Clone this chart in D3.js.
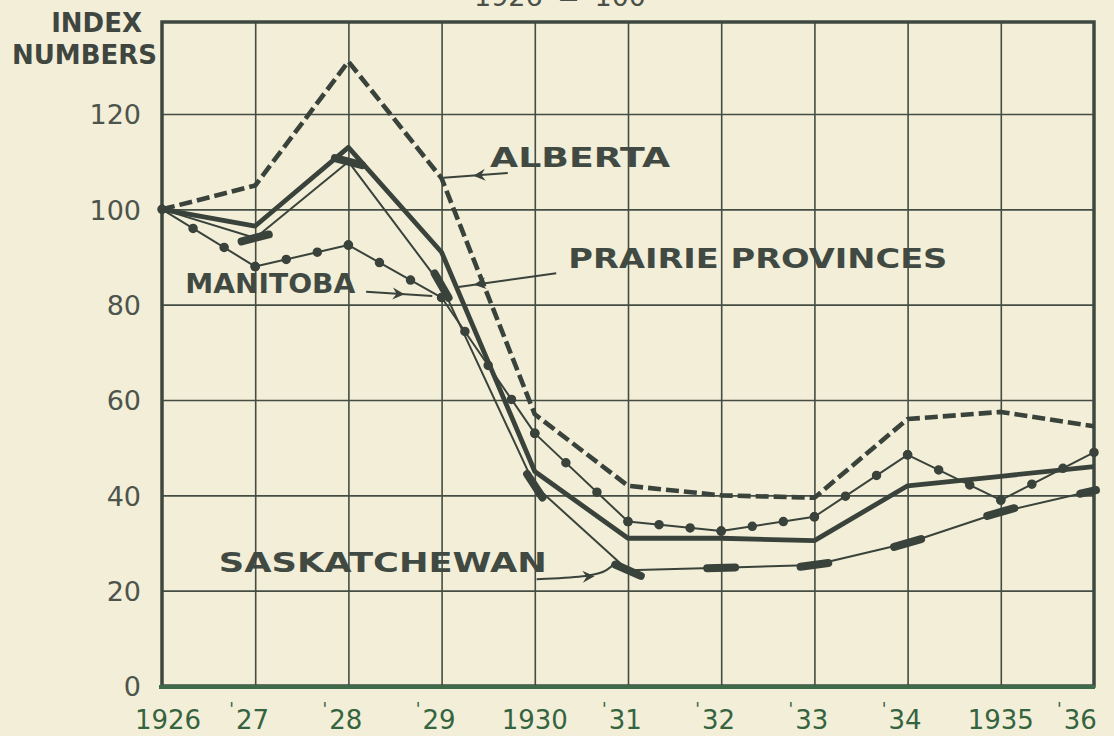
<!DOCTYPE html>
<html><head><meta charset="utf-8">
<script src="https://cdn.jsdelivr.net/npm/d3@7"></script>
<style>
html,body{margin:0;padding:0;background:#f3eed7;}
svg{display:block;}
</style></head><body>
<svg id="chart" width="1114" height="736"></svg>
<script>
// ---------------- data ----------------
const years = [1926,1927,1928,1929,1930,1931,1932,1933,1934,1935,1936];
const xTickLabels = ["1926","'27","'28","'29","1930","'31","'32","'33","'34","1935","'36"];
const yTicks = [0,20,40,60,80,100,120];
const alberta      = [100,105,131,106.5,57,42,40,39.5,56,57.5,54.5];
const prairie      = [100,96.5,113,91,45,31,31,30.5,42,44,46];
const manitoba     = [100,88,92.5,81.5,53,34.5,32.5,35.5,48.5,39,49];
const saskatchewan = [100,94,110,84,42,24.3,24.8,25.4,30,36.5,41];
const seriesNames  = ["ALBERTA","PRAIRIE PROVINCES","MANITOBA","SASKATCHEWAN"];
const titleText = "1926 = 100";
const yTitle = ["INDEX","NUMBERS"];

// ---------------- layout ----------------
const W = 1114, H = 736;
const svg = d3.select("#chart");
const x = d3.scaleLinear().domain([1926,1936]).range([162,1094]);
const y = d3.scaleLinear().domain([0,139.3]).range([686,22]);
const ink = "#39433b";
const P = (a,b) => [x(a), y(b)];

svg.append("rect").attr("width",W).attr("height",H).attr("fill","#f3eed7");

// title (cut off at top, as in the original)
svg.append("text").attr("x",560).attr("y",6).attr("text-anchor","middle")
  .attr("font-family","DejaVu Sans").attr("font-size",27).attr("fill","#4a5049")
  .attr("word-spacing",6).text(titleText);

// grid
const grid = svg.append("g");
grid.append("g")
  .call(d3.axisBottom(x).tickValues(years.slice(1,-1)).tickSize(0).tickFormat(""))
  .call(g=>g.select(".domain").remove())
  .call(g=>g.selectAll(".tick line").attr("y1",y.range()[1]).attr("y2",y.range()[0])
     .attr("stroke","#434d44").attr("stroke-width",1.6));
grid.append("g")
  .call(d3.axisLeft(y).tickValues(yTicks.filter(v=>v>0)).tickSize(0).tickFormat(""))
  .call(g=>g.select(".domain").remove())
  .call(g=>g.selectAll(".tick line").attr("x1",x.range()[0]).attr("x2",x.range()[1])
     .attr("stroke","#434d44").attr("stroke-width",1.6));

// frame
svg.append("rect").attr("x",x.range()[0]).attr("y",y.range()[1])
  .attr("width",x.range()[1]-x.range()[0]).attr("height",y.range()[0]-y.range()[1])
  .attr("fill","none").attr("stroke","#3e4840").attr("stroke-width",3.5);
svg.append("line").attr("x1",x.range()[0]-3).attr("x2",x.range()[1]+1)
  .attr("y1",y(0)+1).attr("y2",y(0)+1).attr("stroke","#3d6b4a").attr("stroke-width",4);

// y axis labels
svg.append("g").attr("transform",`translate(141,0)`)
  .call(d3.axisLeft(y).tickValues(yTicks).tickSize(0).tickPadding(0))
  .call(g=>g.select(".domain").remove())
  .call(g=>g.selectAll("text").attr("font-family","DejaVu Sans").attr("font-size",27)
     .attr("fill","#4c544c").attr("dy","0.36em"));

// x axis labels
const xl = svg.append("g").attr("font-family","DejaVu Sans").attr("font-size",26).attr("fill","#34643f");
xTickLabels.forEach((lab,i)=>{
  let cx = x(years[i]);
  if (i===0) cx += 6;
  if (i===years.length-1) cx -= 11;
  const t = xl.append("text").attr("y",729).attr("text-anchor","middle");
  if (lab[0]==="'") {
    t.attr("x",cx-4);
    t.append("tspan").attr("font-size",17).attr("dy",-14).attr("dx",-2).text("'");
    t.append("tspan").attr("dy",14).attr("dx",2).text(lab.slice(1));
  } else {
    t.attr("x",cx).text(lab);
  }
});

// y title
const yt = svg.append("g").attr("font-family","DejaVu Sans").attr("font-weight","bold")
  .attr("font-size",26).attr("fill","#3f453f").attr("text-anchor","end");
yt.append("text").attr("x",142).attr("y",32).text(yTitle[0]);
yt.append("text").attr("x",157).attr("y",64).text(yTitle[1]);

// ---------------- series ----------------
const line = d3.line().x((d,i)=>x(years[i])).y(d=>y(d));
const plot = svg.append("g").attr("fill","none").attr("stroke",ink).attr("stroke-linejoin","round");

// Alberta dashed
plot.append("path").datum(alberta).attr("d",line)
  .attr("stroke-width",4.6).attr("stroke-dasharray","13,5");

// Prairie provinces thick
plot.append("path").datum(prairie).attr("d",line).attr("stroke-width",4.8);

// Saskatchewan thin with bar markers
plot.append("path").datum(saskatchewan).attr("d",line).attr("stroke-width",2);
const sk = saskatchewan.map((v,i)=>P(years[i],v));
sk.forEach((p,i)=>{
  if (i===0) return;
  const a = sk[Math.max(0,i-1)], b = sk[Math.min(sk.length-1,i+1)];
  const ang = Math.atan2(b[1]-a[1], b[0]-a[0]);
  const L = i===sk.length-1 ? 8 : 14;
  const off = i===sk.length-1 ? -6 : 0;
  const cx = p[0]+off*Math.cos(ang), cy = p[1]+off*Math.sin(ang);
  plot.append("line")
    .attr("x1",cx-L*Math.cos(ang)).attr("y1",cy-L*Math.sin(ang))
    .attr("x2",cx+L*Math.cos(ang)).attr("y2",cy+L*Math.sin(ang))
    .attr("stroke-width",8).attr("stroke-linecap","round");
});

// Manitoba thin with dots
plot.append("path").datum(manitoba).attr("d",line).attr("stroke-width",2);
for (let i=0;i<manitoba.length-1;i++){
  const seg=[manitoba[i],manitoba[i+1]];
  const p0=P(years[i],seg[0]), p1=P(years[i+1],seg[1]);
  const len=Math.hypot(p1[0]-p0[0],p1[1]-p0[1]);
  const k=Math.max(3,Math.round(len/38));
  plot.append("path").attr("d",`M${p0[0]},${p0[1]}L${p1[0]},${p1[1]}`)
    .attr("stroke-width",9.5).attr("stroke-linecap","round")
    .attr("stroke-dasharray",`0 ${len/k-0.001}`);
}

// ---------------- annotations ----------------
const ann = svg.append("g");
function label(txt, xd, yd, len){
  const p=P(xd,yd);
  ann.append("text").attr("x",p[0]).attr("y",p[1]).text(txt)
    .attr("font-family","DejaVu Sans").attr("font-weight","bold").attr("font-size",26)
    .attr("fill","#414a42").attr("textLength",len).attr("lengthAdjust","spacingAndGlyphs");
}
function arrowHead(pt, ang){
  const s=12, w=6;
  const tip=[pt[0]+s*Math.cos(ang), pt[1]+s*Math.sin(ang)];
  const bx=pt[0], by=pt[1];
  const nx=-Math.sin(ang), ny=Math.cos(ang);
  ann.append("path").attr("d",`M${tip[0]},${tip[1]}L${bx+nx*w},${by+ny*w}L${bx+Math.cos(ang)*4},${by+Math.sin(ang)*4}L${bx-nx*w},${by-ny*w}Z`)
    .attr("fill",ink);
}
function arrow(pts, headFrac){
  const px=pts.map(p=>P(p[0],p[1]));
  ann.append("path").attr("d",d3.line().curve(d3.curveBasis)(px))
    .attr("fill","none").attr("stroke",ink).attr("stroke-width",2);
  const a=px[0], b=px[px.length-1];
  const ang=Math.atan2(b[1]-a[1], b[0]-a[0]);
  const hp=[a[0]+(b[0]-a[0])*headFrac, a[1]+(b[1]-a[1])*headFrac];
  arrowHead(hp, ang);
}
label(seriesNames[0], 1929.52, 108.9, 180);
label(seriesNames[1], 1930.36, 87.7, 379);
label(seriesNames[2], 1926.25, 82.4, 170);
label(seriesNames[3], 1926.61, 23.9, 328);

arrow([[1929.71,107.6],[1929.02,106.6]], 0.35);
arrow([[1930.23,86.6],[1929.18,83.7]], 0.72);
arrow([[1928.19,82.7],[1928.90,81.8]], 0.4);
// Saskatchewan curved leader
(function(){
  const pts=[[1930.02,22.4],[1930.62,23.0],[1930.78,24.2],[1930.87,26.0]].map(p=>P(p[0],p[1]));
  ann.append("path").attr("d",d3.line().curve(d3.curveBasis)(pts))
    .attr("fill","none").attr("stroke",ink).attr("stroke-width",2);
  arrowHead([pts[1][0]-10,pts[1][1]+0.5], Math.atan2(pts[1][1]-pts[0][1],pts[1][0]-pts[0][0]));
})();
</script>
</body></html>
